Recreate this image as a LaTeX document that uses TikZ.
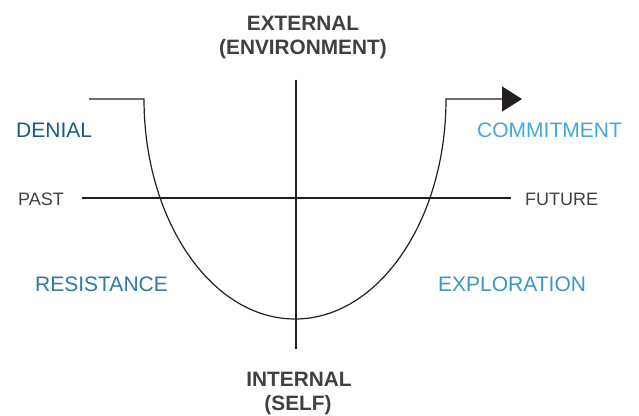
\documentclass[tikz,border=0pt]{standalone}
\usepackage{fontspec}
\setmainfont{Liberation Sans}
\usetikzlibrary{arrows.meta}
\definecolor{denialc}{HTML}{1C5D7D}
\definecolor{resistc}{HTML}{2B7BA2}
\definecolor{explorc}{HTML}{3A96C7}
\definecolor{commitc}{HTML}{3DA9DE}
\definecolor{txtgray}{HTML}{404040}
\definecolor{linec}{HTML}{231F20}
\tikzset{
  axis/.style={draw=linec, line width=1.1pt},
  curvepath/.style={draw=linec, line width=1.2pt},
  stage/.style={inner sep=0pt, anchor=base west, font=\fontsize{21}{24}\selectfont},
  timelbl/.style={inner sep=0pt, anchor=base west, text=txtgray, font=\fontsize{18}{20}\selectfont},
  dimlbl/.style={inner sep=0pt, anchor=base, text=txtgray, font=\bfseries\fontsize{20.8}{24}\selectfont},
}
\begin{document}
\begin{tikzpicture}[x=1pt,y=1pt]
\useasboundingbox (0,0) rectangle (639,415);
% axes
\coordinate (hl) at (82,217);
\coordinate (hr) at (511,217);
\coordinate (vt) at (296,335);
\coordinate (vb) at (296,66);
\draw[axis] (hl) -- (hr);
\draw[axis] (vt) -- (vb);
% change curve
\coordinate (cs) at (89,316);
\coordinate (ca) at (144,316);
\coordinate (ce) at (522,316);
\draw[curvepath, -{Triangle[length=20pt,width=25pt]}] (cs) -- (ca)
  arc[start angle=180, end angle=360, x radius=151pt, y radius=220pt] -- (ce);
% labels
\node[stage, text=denialc] (denial) at (16,277) {DENIAL};
\node[stage, text=commitc] (commit) at (477,277) {COMMITMENT};
\node[stage, text=resistc] (resist) at (35,124) {RESISTANCE};
\node[stage, text=explorc] (explor) at (438,124) {EXPLORATION};
\node[timelbl] (past) at (18,209) {PAST};
\node[timelbl] (future) at (525,209) {FUTURE};
\node[dimlbl] (ext1) at (303,384) {EXTERNAL};
\node[dimlbl] (ext2) at (303,360) {(ENVIRONMENT)};
\node[dimlbl] (int1) at (299,29) {INTERNAL};
\node[dimlbl] (int2) at (298,5) {(SELF)};
\end{tikzpicture}
\end{document}
